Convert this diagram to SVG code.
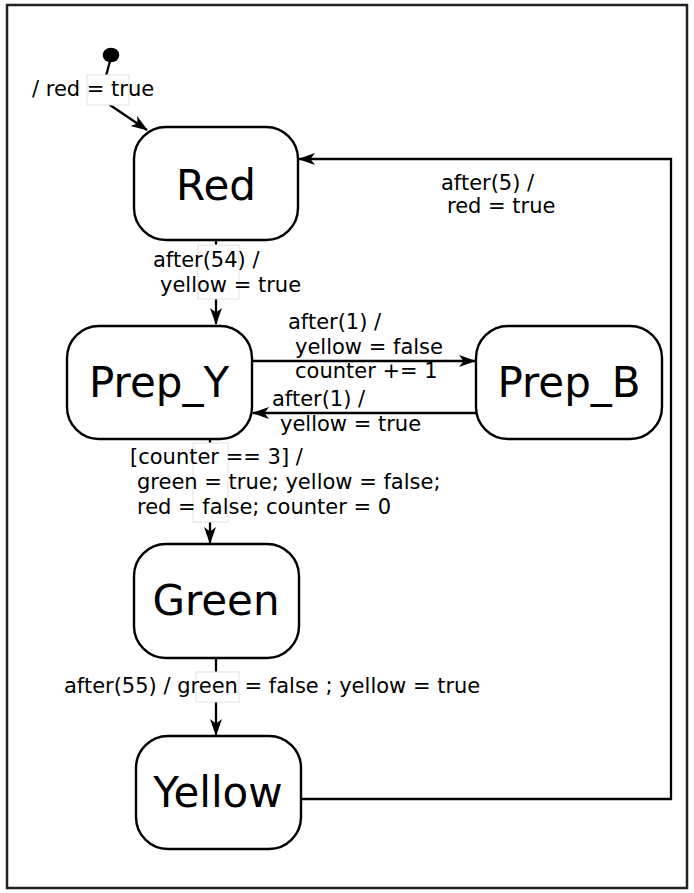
<svg xmlns="http://www.w3.org/2000/svg" width="694" height="893" viewBox="0 0 694 893">
<defs>
<style>
.node{fill:#fff;stroke:#000;stroke-width:2.4}
.nt{font-family:"DejaVu Sans",sans-serif;font-size:42px;fill:#000;text-anchor:middle}
.lb{font-family:"DejaVu Sans",sans-serif;font-size:21px;fill:#000}
.edge{fill:none;stroke:#000;stroke-width:2.3}
.lbox{fill:#fff;stroke:#e2e2e2;stroke-width:1}
</style>
<marker id="arr" markerUnits="userSpaceOnUse" markerWidth="18" markerHeight="13" refX="16" refY="6.5" orient="auto">
<path d="M0,0.5 L17,6.5 L0,12.5 L4.5,6.5 z" fill="#000"/>
</marker>
</defs>
<rect x="0" y="0" width="694" height="893" fill="#fff"/>
<rect x="7" y="5" width="680" height="883" fill="none" stroke="#222" stroke-width="2.5"/>

<g id="connectors">
<g id="e-init">
<path class="edge" d="M110,61 L106,76 L108,90 L110,105 L147,130" marker-end="url(#arr)"/>
<rect class="lbox" x="87" y="75" width="42" height="30"/>
<text class="lb" x="32" y="96">/ red = true</text>
</g>
<g id="e-red-prepy">
<path class="edge" d="M216,240 L216,324" marker-end="url(#arr)"/>
<rect class="lbox" x="198" y="245" width="41" height="54"/>
<text class="lb" x="153" y="267">after(54) /</text>
<text class="lb" x="160" y="292">yellow = true</text>
</g>
<g id="e-prepy-prepb">
<path class="edge" d="M252,361 L475,361" marker-end="url(#arr)"/>
<text class="lb" x="288" y="329">after(1) /</text>
<text class="lb" x="295" y="354">yellow = false</text>
<text class="lb" x="295" y="378">counter += 1</text>
</g>
<g id="e-prepb-prepy">
<path class="edge" d="M476,413 L253,413" marker-end="url(#arr)"/>
<text class="lb" x="272" y="406">after(1) /</text>
<text class="lb" x="280" y="431">yellow = true</text>
</g>
<g id="e-prepy-green">
<path class="edge" d="M210,439 L210,543" marker-end="url(#arr)"/>
<rect class="lbox" x="193" y="443" width="35" height="79"/>
<text class="lb" x="130" y="464">[counter == 3] /</text>
<text class="lb" x="137" y="489">green = true; yellow = false;</text>
<text class="lb" x="137" y="514">red = false; counter = 0</text>
</g>
<g id="e-green-yellow">
<path class="edge" d="M216,658 L216,735" marker-end="url(#arr)"/>
<rect class="lbox" x="196" y="672" width="43" height="30"/>
<text class="lb" x="64" y="693">after(55) / green = false ; yellow = true</text>
</g>
<g id="e-yellow-red">
<path class="edge" d="M301,799 L671,799 L671,159 L299,159" marker-end="url(#arr)"/>
<text class="lb" x="441" y="190">after(5) /</text>
<text class="lb" x="447" y="213">red = true</text>
</g>
</g>

<g id="init">
<ellipse cx="111" cy="55" rx="8.3" ry="7.3" fill="#000"/>
</g>
<g id="Red">
<rect class="node" x="134" y="127" width="164" height="113" rx="32"/>
<text class="nt" x="216" y="200">Red</text>
</g>
<g id="Prep_Y">
<rect class="node" x="67" y="326" width="185" height="113" rx="32"/>
<text class="nt" x="159" y="397">Prep_Y</text>
</g>
<g id="Prep_B">
<rect class="node" x="476" y="326" width="186" height="113" rx="32"/>
<text class="nt" x="569" y="397">Prep_B</text>
</g>
<g id="Green">
<rect class="node" x="134" y="544" width="165" height="114" rx="32"/>
<text class="nt" x="216" y="615">Green</text>
</g>
<g id="Yellow">
<rect class="node" x="136" y="736" width="165" height="113" rx="32"/>
<text class="nt" x="218" y="807">Yellow</text>
</g>
</svg>
